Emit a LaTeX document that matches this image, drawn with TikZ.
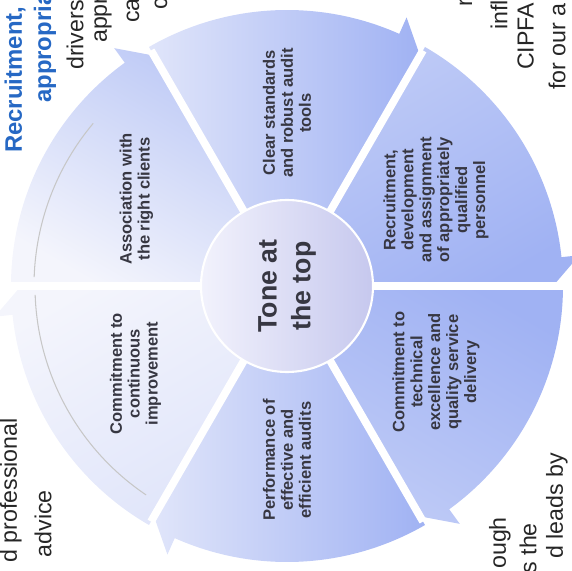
\documentclass[tikz,border=0pt]{standalone}
\usepackage{fontspec}
\setmainfont{Liberation Sans}
\usepackage{tikz}
\usepackage{xcolor}

\definecolor{segwhite}{RGB}{244,245,252}
\definecolor{segpale}{RGB}{224,229,250}
\definecolor{segmid}{RGB}{190,202,246}
\definecolor{segblue}{RGB}{160,178,243}
\definecolor{hubwhite}{RGB}{242,242,252}
\definecolor{hublav}{RGB}{198,200,238}
\definecolor{labeltext}{RGB}{55,55,66}
\definecolor{headblue}{RGB}{38,104,196}

\begin{document}
\begin{tikzpicture}[
        scale=0.05,
        divider/.style = {draw=white, line width=11pt},
        rimline/.style = {draw=black!22, line width=1.5pt},
        seglabel/.style = {rotate=90, align=center, text=labeltext, font=\fontsize{23.5}{25.5}\selectfont\bfseries},
        hublabel/.style = {rotate=90, align=center, text=labeltext, font=\fontsize{38}{48}\selectfont\bfseries},
        bodytext/.style = {rotate=90, inner sep=0pt, text=black!85, font=\fontsize{33}{40}\selectfont},
        headtext/.style = {rotate=90, inner sep=0pt, text=headblue, font=\fontsize{34}{40}\selectfont\bfseries}
        ]
        \useasboundingbox (-287,-285) rectangle (285,286);
        \clip (-287,-285) rectangle (285,286);
        % six arrow segments round the hub
        \shade[bottom color=segwhite, top color=segmid, shading angle=-30]
            (180:80) -- (180:276) arc[start angle=180, end angle=126, radius=276]
            -- (126:294) -- (120:266) -- (120:80) arc[start angle=120, end angle=180, radius=80] -- cycle;
        \shade[bottom color=segpale, top color=segblue, shading angle=-90]
            (120:80) -- (120:276) arc[start angle=120, end angle=66, radius=276]
            -- (66:294) -- (60:266) -- (60:80) arc[start angle=60, end angle=120, radius=80] -- cycle;
        \shade[bottom color=segmid, top color=segblue, shading angle=-150]
            (60:80) -- (60:276) arc[start angle=60, end angle=6, radius=276]
            -- (6:294) -- (0:266) -- (0:80) arc[start angle=0, end angle=60, radius=80] -- cycle;
        \shade[bottom color=segblue, top color=segmid, shading angle=150]
            (0:80) -- (0:276) arc[start angle=0, end angle=-54, radius=276]
            -- (-54:294) -- (-60:266) -- (-60:80) arc[start angle=-60, end angle=0, radius=80] -- cycle;
        \shade[bottom color=segblue, top color=segpale, shading angle=90]
            (-60:80) -- (-60:276) arc[start angle=-60, end angle=-114, radius=276]
            -- (-114:294) -- (-120:266) -- (-120:80) arc[start angle=-120, end angle=-60, radius=80] -- cycle;
        \shade[bottom color=segpale, top color=segwhite, shading angle=30]
            (-120:80) -- (-120:276) arc[start angle=-120, end angle=-174, radius=276]
            -- (-174:294) -- (-180:266) -- (-180:80) arc[start angle=-180, end angle=-120, radius=80] -- cycle;
        % grey rim on the pale side
        \draw[rimline] (178:253) arc[start angle=178, end angle=140, radius=253];
        \draw[rimline] (-124:252) arc[start angle=-124, end angle=-178, radius=252];
        % white gaps between segments
        \draw[divider] (0:84) -- (0:282);
        \draw[divider] (60:84) -- (60:272);
        \draw[divider] (120:84) -- (120:272);
        \draw[divider] (180:84) -- (180:282);
        \draw[divider] (240:84) -- (240:272);
        \draw[divider] (300:84) -- (300:272);
        % hub
        \shade[left color=hubwhite, right color=hublav, draw=white, line width=3pt] (0,0) circle[radius=86];
        \node[hublabel] (hub) at (0,0) {Tone at\\the top};
        \node[seglabel] (clients) at (150:174) {Association with\\the right clients};
        \node[seglabel] (standards) at (90:173) {Clear standards\\and robust audit\\tools};
        \node[seglabel] (recruit) at (30:172) {Recruitment,\\development\\and assignment\\of appropriately\\qualified\\personnel};
        \node[seglabel] (technical) at (-30:172) {Commitment to\\technical\\excellence and\\quality service\\delivery};
        \node[seglabel] (audits) at (-90:174) {Performance of\\effective and\\efficient audits};
        \node[seglabel] (improve) at (-150:175) {Commitment to\\continuous\\improvement};
        % page text round the wheel
        \node[headtext, anchor=west] (head1) at (-272,133) {Recruitment,};
        \node[headtext, anchor=west] (head2) at (-242,183) {appropria};
        \node[bodytext, anchor=west] (para1) at (-212,216) {drivers};
        \node[bodytext, anchor=west] (para2) at (-184,243) {appr};
        \node[bodytext, anchor=west] (para3) at (-154,263) {ca};
        \node[bodytext, anchor=west] (para4) at (-126,276) {c};
        \node[bodytext, anchor=west] (side1) at (179,279) {r};
        \node[bodytext, anchor=west] (side2) at (212,256) {infl};
        \node[bodytext, anchor=west] (side3) at (240,216) {CIPFA,};
        \node[bodytext, anchor=west] (side4) at (270,196) {for our a};
        \node[bodytext, anchor=east] (foot1) at (213,-231) {ough};
        \node[bodytext, anchor=east] (foot2) at (241,-237) {s the};
        \node[bodytext, anchor=east] (foot3) at (270,-167) {d leads by};
        \node[bodytext, anchor=east] (left1) at (-276,-132) {d professional};
        \node[bodytext, anchor=east] (left2) at (-244,-204) {advice};
        \end{tikzpicture}
\end{document}
